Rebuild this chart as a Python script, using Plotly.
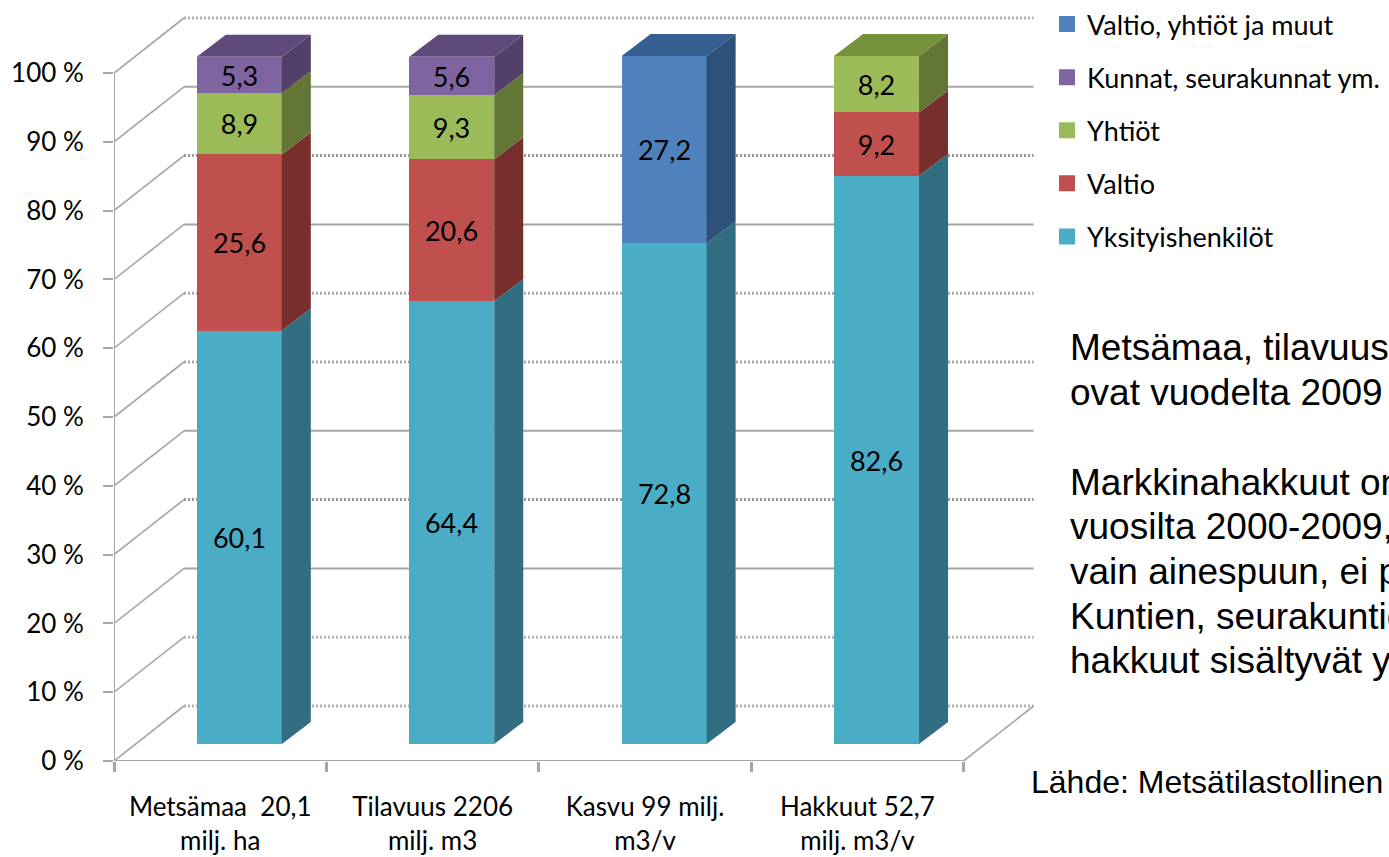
import plotly.graph_objects as go

categories = ["Metsämaa  20,1<br>milj. ha", "Tilavuus 2206<br>milj. m3", "Kasvu 99 milj.<br>m3/v", "Hakkuut 52,7<br>milj. m3/v"]
yksityiset = [60.1, 64.4, 72.8, 82.6]
valtio = [25.6, 20.6, None, 9.2]
yhtiot = [8.9, 9.3, None, 8.2]
kunnat = [5.3, 5.6, None, None]
valtio_yhtiot_muut = [None, None, 27.2, None]
y_ticks = [0, 10, 20, 30, 40, 50, 60, 70, 80, 90, 100]
y_tick_labels = ["0 %", "10 %", "20 %", "30 %", "40 %", "50 %", "60 %", "70 %", "80 %", "90 %", "100 %"]

series = [
    ("Yksityishenkilöt", yksityiset, "#4bacc6", "#316e81", "#3a7f93"),
    ("Valtio", valtio, "#c0504d", "#772f2e", "#943c3a"),
    ("Yhtiöt", yhtiot, "#9bbb59", "#647636", "#76923c"),
    ("Kunnat, seurakunnat ym.", kunnat, "#8064a2", "#524069", "#604a7b"),
    ("Valtio, yhtiöt ja muut", valtio_yhtiot_muut, "#4f81bd", "#2f5078", "#376092"),
]

# Frame geometry in pixels
L, R, T, B = 114.0, 1040.0, 10.0, 761.0
W, H = 1389, 857
PX_CAT = 212.4
PX_PCT = 6.88
WALL_DX, WALL_DY = 70 / PX_CAT, 55 / PX_PCT
BAR_W = 85 / PX_CAT
BAR_OFF = 0.59
BAR_LIFT = 17 / PX_PCT
SIDE_DX, SIDE_DY = 29 / PX_CAT, 22 / PX_PCT
GRID = "#a6a6a6"

fig = go.Figure()
n = len(categories)
cum = [BAR_LIFT] * n
tops = [None] * n
for name, vals, front, side, top in series:
    xs, bases, ys, texts = [], [], [], []
    sx, sy = [], []
    for i, v in enumerate(vals):
        if v is None:
            continue
        xc = i + BAR_OFF
        xs.append(xc)
        bases.append(cum[i])
        ys.append(v)
        texts.append(str(v).replace(".", ","))
        xr = xc + BAR_W / 2
        b, t = cum[i], cum[i] + v
        sx += [xr, xr + SIDE_DX, xr + SIDE_DX, xr, xr, None]
        sy += [b, b + SIDE_DY, t + SIDE_DY, t, b, None]
        cum[i] = t
        tops[i] = top
    fig.add_trace(go.Bar(x=xs, y=ys, base=bases, width=BAR_W, name=name, showlegend=False,
                         marker=dict(color=front, line=dict(width=0)), text=texts,
                         textposition="inside", insidetextanchor="middle", textangle=0,
                         constraintext="none", textfont=dict(family="Lato", size=27, color="#000000"),
                         hoverinfo="skip"))
    fig.add_trace(go.Scatter(x=sx, y=sy, mode="lines", fill="toself", fillcolor=side,
                             line=dict(width=0, color=side), showlegend=False, hoverinfo="skip"))

for i in range(n):
    xl = i + BAR_OFF - BAR_W / 2
    xr = xl + BAR_W
    t = cum[i]
    fig.add_trace(go.Scatter(x=[xl, xl + SIDE_DX, xr + SIDE_DX, xr, xl],
                             y=[t, t + SIDE_DY, t + SIDE_DY, t, t],
                             mode="lines", fill="toself", fillcolor=tops[i],
                             line=dict(width=0, color=tops[i]), showlegend=False, hoverinfo="skip"))

# Legend entries, top to bottom
for name, vals, front, side, top in reversed(series):
    fig.add_trace(go.Bar(x=[None], y=[None], name=name, legendgroup=name,
                         marker=dict(color=front, line=dict(color=front, width=4))))

shapes = []
hatched = {0: "#b4b4b4", 10: "#b4b4b4", 30: "#999999", 50: "#aaaaaa", 60: "#aaaaaa", 80: "#999999", 100: "#b4b4b4"}
for v in y_ticks:
    ln = dict(color=hatched.get(v, GRID), width=3, dash="2px,2px") if v in hatched else dict(color=GRID, width=2)
    shapes.append(dict(type="line", layer="below", xref="x", yref="y", x0=WALL_DX, x1=n + WALL_DX,
                       y0=v + WALL_DY, y1=v + WALL_DY, line=ln))
    shapes.append(dict(type="line", layer="below", xref="x", yref="y", x0=0, x1=WALL_DX,
                       y0=v, y1=v + WALL_DY, line=dict(color=GRID, width=1.6)))
shapes.append(dict(type="line", layer="below", xref="x", yref="y", x0=n, x1=n + WALL_DX,
                   y0=0, y1=WALL_DY, line=dict(color=GRID, width=1.6)))
shapes.append(dict(type="line", layer="below", xref="x", yref="y", x0=0, x1=0, y0=0, y1=y_ticks[-1],
                   line=dict(color=GRID, width=2)))
shapes.append(dict(type="line", layer="below", xref="x", yref="y", x0=0, x1=n, y0=0, y1=0,
                   line=dict(color=GRID, width=2)))

notes = [
    ("Metsämaa, tilavuus", 1068, 347, 37),
    ("ovat vuodelta 2009", 1068, 392, 37),
    ("Markkinahakkuut on", 1068, 482, 37),
    ("vuosilta 2000-2009,", 1068, 526, 37),
    ("vain ainespuun, ei p", 1068, 571, 37),
    ("Kuntien, seurakuntie", 1068, 616, 37),
    ("hakkuut sisältyvät y", 1068, 660, 37),
    ("Lähde: Metsätilastollinen", 1029, 782, 32),
]
annotations = [dict(text=t, xref="paper", yref="paper", x=x / W, y=1 - y / H, xanchor="left", yanchor="middle",
                    showarrow=False, align="left",
                    font=dict(family="Liberation Sans", size=s, color="#000000")) for t, x, y, s in notes]

fig.update_layout(
    width=W, height=H, autosize=False, barmode="overlay", bargap=0,
    paper_bgcolor="white", plot_bgcolor="rgba(0,0,0,0)",
    margin=dict(l=0, r=0, t=0, b=0, pad=0),
    shapes=shapes, annotations=annotations,
    showlegend=True,
    legend=dict(x=1047 / W, y=1.0, xanchor="left", yanchor="top",
                traceorder="grouped", tracegroupgap=15, bgcolor="rgba(0,0,0,0)",
                itemclick=False, itemdoubleclick=False,
                font=dict(family="Lato", size=27, color="#000000")),
    xaxis=dict(domain=[L / W, R / W], range=[0, (R - L) / PX_CAT], tickmode="array", automargin=False,
               tickvals=[i + 0.5 for i in range(n)], tickangle=0,
               ticktext=categories, ticks="", showgrid=False, zeroline=False, showline=False,
               ticklabelstandoff=28, tickfont=dict(family="Lato", size=26, color="#000000"),
               minor=dict(tickmode="array", tickvals=list(range(n + 1)), ticks="outside", ticklen=10,
                          tickwidth=3, tickcolor=GRID, showgrid=False)),
    yaxis=dict(domain=[1 - B / H, 1 - T / H], range=[0, (B - T) / PX_PCT], tickmode="array", automargin=False,
               tickvals=y_ticks, ticktext=y_tick_labels,
               ticks="outside", ticklen=10, tickwidth=2, tickcolor=GRID, showgrid=False, zeroline=False,
               showline=False, ticklabelstandoff=14, tickfont=dict(family="Lato", size=26, color="#000000")),
)
fig.write_html("out.html", config={"displayModeBar": False},
               post_script="document.body.style.margin='0';document.documentElement.style.overflow='hidden';")
